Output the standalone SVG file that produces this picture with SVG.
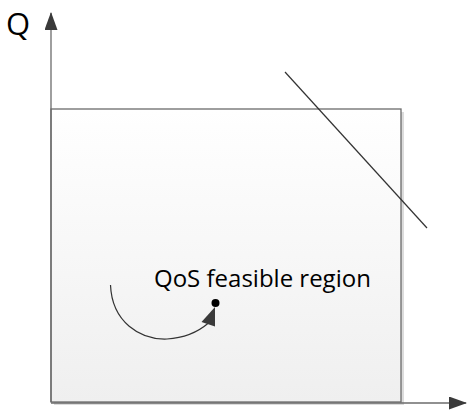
<svg xmlns="http://www.w3.org/2000/svg" width="467" height="410" viewBox="0 0 467 410">
<style>
.axis{stroke:#6b6b6b;stroke-width:1.3;fill:none}
.ln{stroke:#333;stroke-width:1.2;fill:none}
.lbl{font-family:"Open Sans","Liberation Sans",sans-serif;fill:#000}
.head{fill:#3a3a3a}
</style>
<defs>
<linearGradient id="g" x1="0" y1="0" x2="0" y2="1">
<stop offset="0" stop-color="#ffffff"/>
<stop offset="1" stop-color="#efefef"/>
</linearGradient>
<marker id="ah" viewBox="0 0 18 13" refX="17" refY="6.5" markerWidth="18" markerHeight="13" markerUnits="userSpaceOnUse" orient="auto">
<path d="M0,0 L18,6.5 L0,13 Z" class="head"/>
</marker>
</defs>
<g id="region">
<rect x="54" y="112" width="350" height="293" fill="#dcdcdc"/>
<rect x="51" y="109" width="350" height="293" fill="url(#g)" stroke="#6b6b6b" stroke-width="1.3"/>
</g>
<g id="connectors">
<line class="axis" x1="51" y1="402" x2="51" y2="13" marker-end="url(#ah)"/>
<line class="axis" x1="51" y1="403" x2="466" y2="403" marker-end="url(#ah)"/>
<line class="ln" x1="285" y1="72" x2="427" y2="228"/>
<path class="ln" d="M110.5,285 C112,322 140,340 167,339 C184,338 198,332 208.5,323" stroke-width="1"/>
<polygon class="head" points="215,307 201.5,322 215,326.5"/>
</g>
<g id="labels">
<text class="lbl" x="6" y="35" font-size="31">Q</text>
<text class="lbl" x="154" y="287" font-size="24">QoS feasible region</text>
<circle cx="215.5" cy="303" r="4" fill="#000"/>
</g>
</svg>
